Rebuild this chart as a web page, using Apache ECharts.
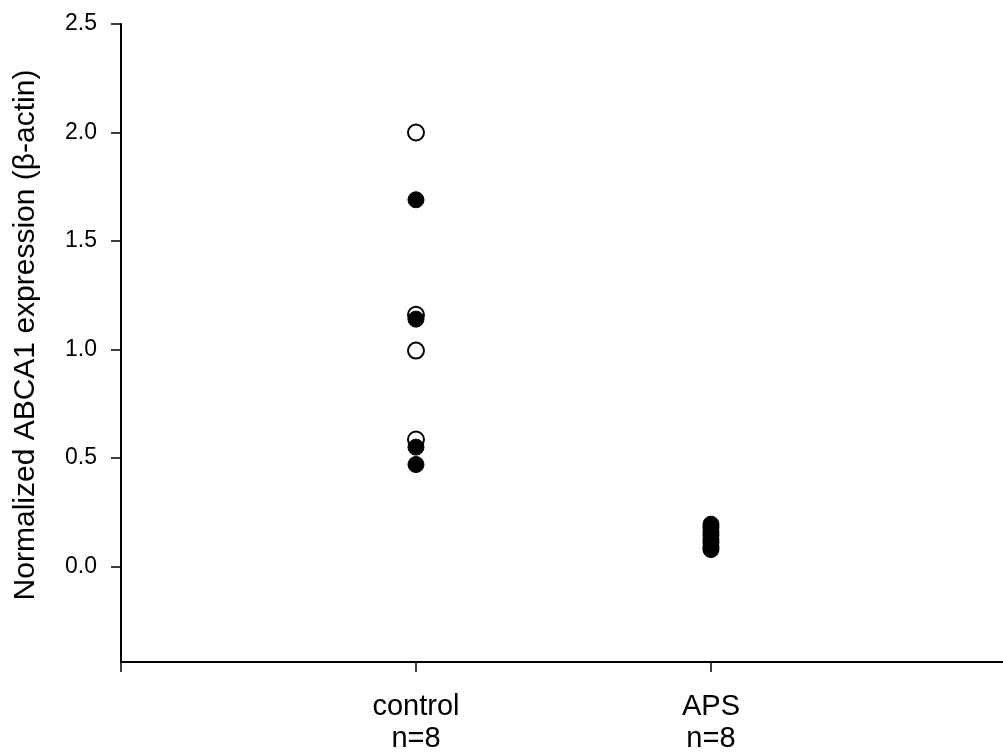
<!DOCTYPE html>
<html>
<head>
<meta charset="utf-8">
<script src="https://cdn.jsdelivr.net/npm/echarts@6/dist/echarts.min.js"></script>
<style>
  html, body { margin: 0; padding: 0; background: #fff; }
  #chart { width: 1003px; height: 755px; }
</style>
</head>
<body>
<div id="chart"></div>
<script>
// Group positions on the x scale and their labels
const groups = [1, 2];
const groupLabels = ['control\nn=8', 'APS\nn=8'];

// Normalized ABCA1 expression per sample
const controlOpen = [2.0, 1.16, 0.995, 0.585];
const controlFilled = [1.69, 1.14, 0.55, 0.47];
const apsFilled = [0.195, 0.18, 0.16, 0.145, 0.125, 0.11, 0.09, 0.078];

// Y tick values
const yTicks = [0, 0.5, 1.0, 1.5, 2.0, 2.5];

const font = "'Liberation Sans', Arial, sans-serif";

function pairs(x, vals) { return vals.map(v => [x, v]); }

const chart = echarts.init(document.getElementById('chart'));
chart.setOption({
  animation: false,
  backgroundColor: '#fff',
  grid: { left: 121, right: 0, top: 24, bottom: 93 },
  xAxis: {
    type: 'value',
    min: 0,
    max: 2.99,
    splitLine: { show: false },
    axisLine: { onZero: false, lineStyle: { color: '#000', width: 2 } },
    axisTick: { show: true, length: 10, lineStyle: { color: '#000', width: 1.5 }, customValues: [0, 1, 2] },
    axisLabel: {
      customValues: groups,
      formatter: v => groupLabels[groups.indexOf(v)] || '',
      color: '#000', fontFamily: font, fontSize: 29, lineHeight: 32, margin: 29
    }
  },
  yAxis: {
    type: 'value',
    min: -0.44,
    max: 2.5,
    splitLine: { show: false },
    axisLine: { show: true, onZero: false, lineStyle: { color: '#000', width: 2 } },
    axisTick: { show: true, length: 10, lineStyle: { color: '#000', width: 1.5 }, customValues: yTicks },
    axisLabel: {
      customValues: yTicks,
      formatter: v => v.toFixed(1),
      color: '#000', fontFamily: font, fontSize: 23, margin: 24
    },
    name: 'Normalized ABCA1 expression (\u03B2-actin)',
    nameLocation: 'middle',
    nameGap: 80,
    nameTextStyle: { color: '#000', fontFamily: font, fontSize: 30, padding: [0, 0, 0, 16] }
  },
  series: [
    {
      type: 'scatter', symbol: 'circle', symbolSize: 16,
      itemStyle: { color: '#fff', borderColor: '#000', borderWidth: 2, opacity: 1 },
      data: pairs(groups[0], controlOpen)
    },
    {
      type: 'scatter', symbol: 'circle', symbolSize: 16,
      itemStyle: { color: '#000', borderColor: '#000', borderWidth: 1, opacity: 1 },
      data: pairs(groups[0], controlFilled)
    },
    {
      type: 'scatter', symbol: 'circle', symbolSize: 16,
      itemStyle: { color: '#000', borderColor: '#000', borderWidth: 1, opacity: 1 },
      data: pairs(groups[1], apsFilled)
    }
  ]
});
</script>
</body>
</html>
